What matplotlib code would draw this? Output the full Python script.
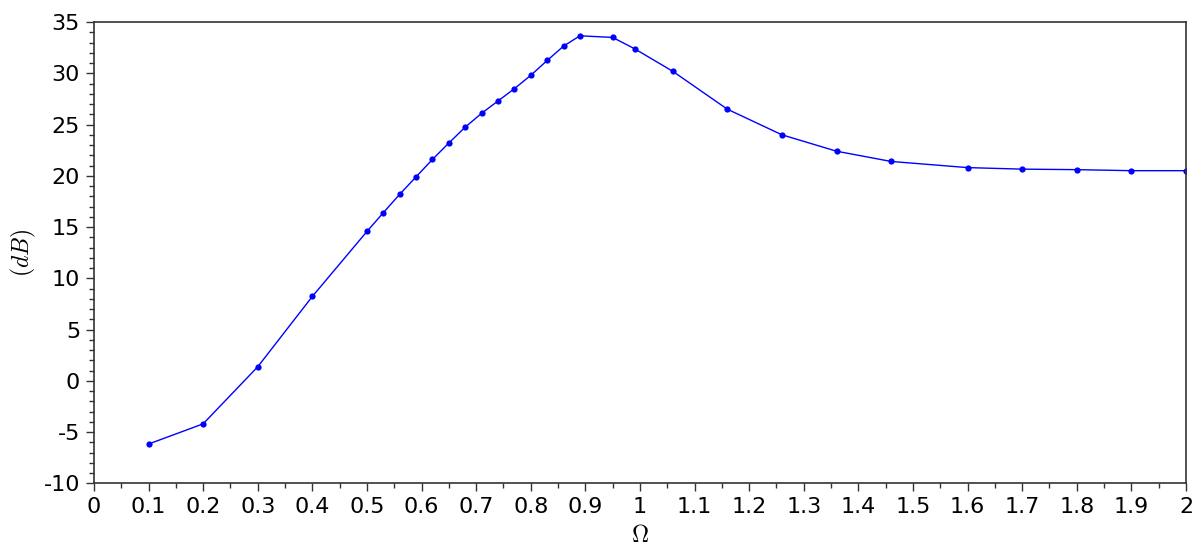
import matplotlib
matplotlib.use("Agg")
import matplotlib.pyplot as plt
from matplotlib.ticker import MultipleLocator, FormatStrFormatter

# frequency ratio and response in dB
omega = [0.1, 0.2, 0.3, 0.4, 0.5, 0.53, 0.56, 0.59, 0.62, 0.65, 0.68, 0.71,
         0.74, 0.77, 0.8, 0.83, 0.86, 0.89, 0.95, 0.99, 1.06, 1.16, 1.26,
         1.36, 1.46, 1.6, 1.7, 1.8, 1.9, 2.0]
gain_db = [-6.17, -4.2, 1.37, 8.23, 14.57, 16.4, 18.2, 19.9, 21.6, 23.2, 24.75,
           26.1, 27.3, 28.5, 29.8, 31.25, 32.65, 33.66, 33.5, 32.4, 30.2, 26.5,
           24.0, 22.4, 21.4, 20.8, 20.65, 20.6, 20.5, 20.5]

plt.rcParams['axes.unicode_minus'] = False
plt.rcParams['mathtext.fontset'] = 'cm'

fig = plt.figure(figsize=(12, 5.6), dpi=100)
ax = fig.add_axes([0.0783, 0.137, 0.91, 0.8236])

ax.plot(omega, gain_db, color='#0000ff', linewidth=1.0, marker='o',
        markersize=4.5, markeredgewidth=0)

ax.set_xlim(0, 2)
ax.set_ylim(-10, 35)
ax.xaxis.set_major_locator(MultipleLocator(0.1))
ax.xaxis.set_minor_locator(MultipleLocator(0.05))
ax.yaxis.set_major_locator(MultipleLocator(5))
ax.yaxis.set_minor_locator(MultipleLocator(1))
ax.xaxis.set_major_formatter(FormatStrFormatter('%g'))
ax.yaxis.set_major_formatter(FormatStrFormatter('%g'))

ax.tick_params(which='major', direction='out', length=6, width=1,
               labelsize=16, color='#333333', pad=4)
ax.tick_params(which='minor', direction='out', length=3.5, width=1,
               color='#333333')
ax.tick_params(top=False, right=False, which='both')
for sp in ax.spines.values():
    sp.set_color('#333333')
    sp.set_linewidth(1.2)

ax.set_xlabel(r'$\Omega$', fontsize=17, labelpad=4)
ax.set_ylabel(r'$(dB)$', fontsize=17, labelpad=4)

fig.savefig('out.png', dpi=100)
